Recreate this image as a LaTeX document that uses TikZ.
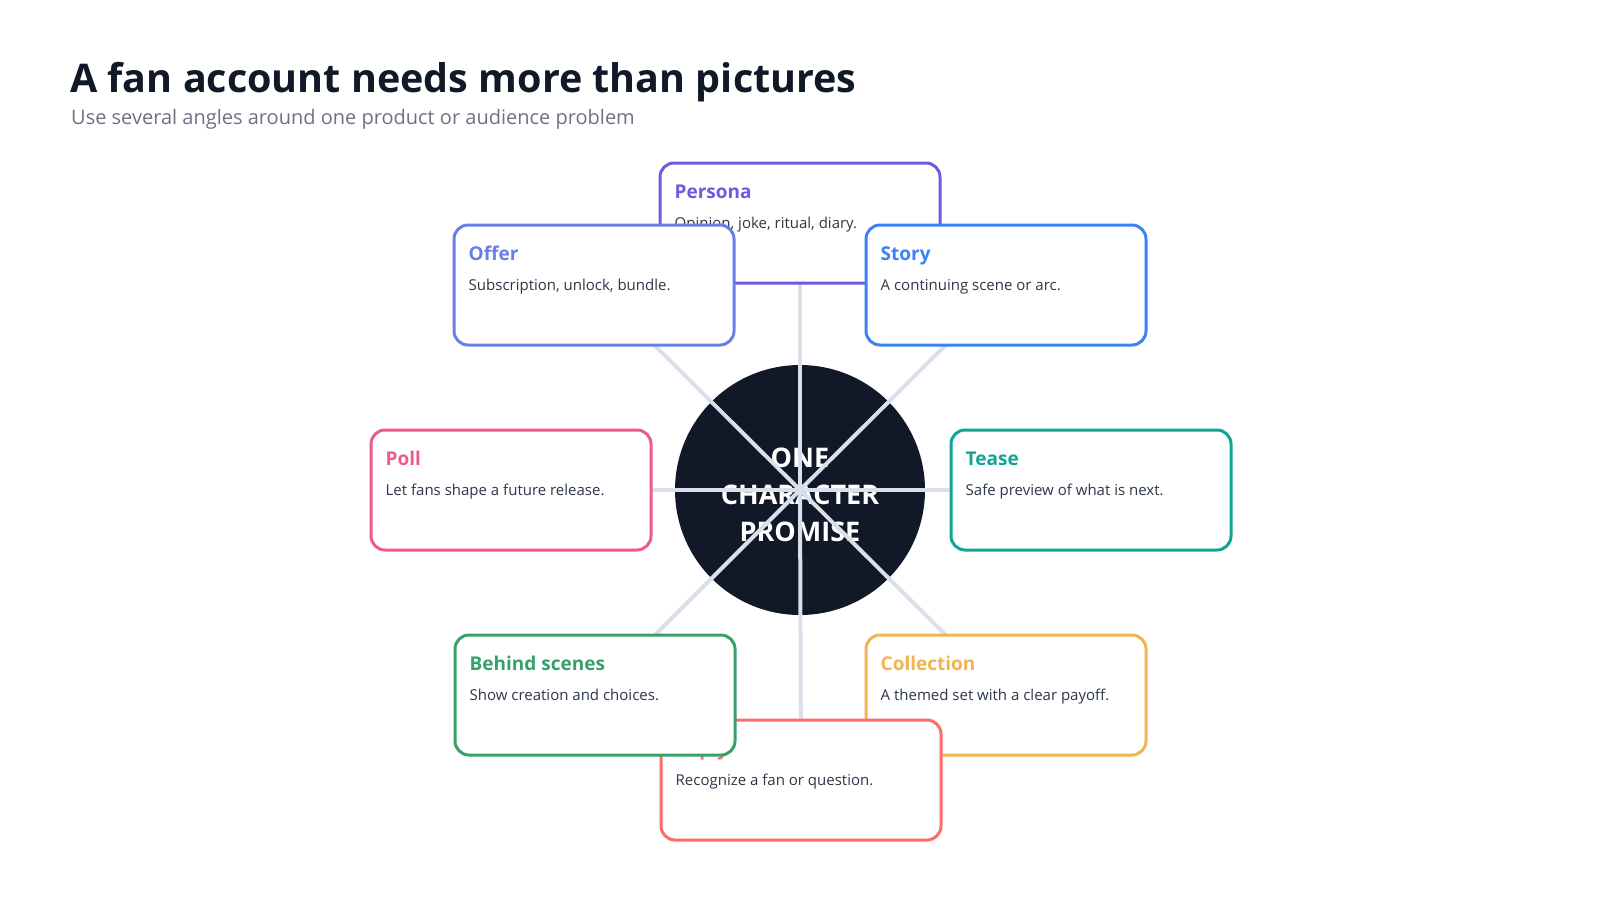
\documentclass[tikz,border=0pt]{standalone}
\usepackage{fontspec}
\setmainfont{Open Sans}
\definecolor{ink}{HTML}{111827}
\definecolor{muted}{HTML}{6B7280}
\definecolor{bodyink}{HTML}{2D3748}
\definecolor{cSpoke}{HTML}{D9E0EA}
\definecolor{cPersona}{HTML}{7657E0}
\definecolor{cOffer}{HTML}{6A7FE6}
\definecolor{cStory}{HTML}{3B82F6}
\definecolor{cTease}{HTML}{0FA596}
\definecolor{cPoll}{HTML}{EF5A8D}
\definecolor{cBehind}{HTML}{38A169}
\definecolor{cCollection}{HTML}{F3B44F}
\definecolor{cReply}{HTML}{FF6B6B}
\begin{document}
\begin{tikzpicture}[x=1pt,y=-1pt,
  card/.style={draw,line width=3pt,rounded corners=14pt,fill=white,minimum width=280pt,minimum height=120pt},
  head/.style={anchor=base west,inner sep=0pt,font=\fontsize{19}{23}\selectfont\bfseries},
  note/.style={anchor=base west,inner sep=0pt,text=bodyink,font=\fontsize{15}{18}\selectfont},
  spoke/.style={draw=cSpoke,line width=4pt}]
\useasboundingbox (0,0) rectangle (1600,900);

\node[anchor=base west,inner sep=0pt,text=ink,font=\fontsize{39.5}{46}\selectfont\bfseries] (title) at (70,92) {A fan account needs more than pictures};
\node[anchor=base west,inner sep=0pt,text=muted,font=\fontsize{20}{24}\selectfont] (subtitle) at (71,124) {Use several angles around one product or audience problem};

\coordinate (persona-c) at (800,223);
\coordinate (story-c) at (1006,285);
\coordinate (tease-c) at (1091,490);
\coordinate (collection-c) at (1006,695);
\coordinate (reply-c) at (801,780);
\coordinate (behind-c) at (595,695);
\coordinate (poll-c) at (511,490);
\coordinate (offer-c) at (594,285);

\node[circle,fill=ink,minimum size=250pt] (core) at (800,490) {};
\node[text=white,align=center,font=\fontsize{27}{37}\selectfont\bfseries] (core-text) at ([yshift=-5pt]core.center) {ONE\\CHARACTER\\PROMISE};

\draw[spoke] (core.center) -- (persona-c);
\draw[spoke] (core.center) -- (story-c);
\draw[spoke] (core.center) -- (tease-c);
\draw[spoke] (core.center) -- (collection-c);
\draw[spoke] (core.center) -- (reply-c);
\draw[spoke] (core.center) -- (behind-c);
\draw[spoke] (core.center) -- (poll-c);
\draw[spoke] (core.center) -- (offer-c);

\node[card,draw=cPersona] (persona) at (persona-c) {};
\node[head,text=cPersona] (persona-head) at ([xshift=16pt,yshift=-37pt]persona.north west) {Persona};
\node[note] (persona-note) at ([xshift=16pt,yshift=-67pt]persona.north west) {Opinion, joke, ritual, diary.};

\node[card,draw=cStory] (story) at (story-c) {};
\node[head,text=cStory] (story-head) at ([xshift=16pt,yshift=-37pt]story.north west) {Story};
\node[note] (story-note) at ([xshift=16pt,yshift=-67pt]story.north west) {A continuing scene or arc.};

\node[card,draw=cTease] (tease) at (tease-c) {};
\node[head,text=cTease] (tease-head) at ([xshift=16pt,yshift=-37pt]tease.north west) {Tease};
\node[note] (tease-note) at ([xshift=16pt,yshift=-67pt]tease.north west) {Safe preview of what is next.};

\node[card,draw=cCollection] (collection) at (collection-c) {};
\node[head,text=cCollection] (collection-head) at ([xshift=16pt,yshift=-37pt]collection.north west) {Collection};
\node[note] (collection-note) at ([xshift=16pt,yshift=-67pt]collection.north west) {A themed set with a clear payoff.};

\node[card,draw=cReply] (reply) at (reply-c) {};
\node[head,text=cReply] (reply-head) at ([xshift=16pt,yshift=-37pt]reply.north west) {Reply};
\node[note] (reply-note) at ([xshift=16pt,yshift=-67pt]reply.north west) {Recognize a fan or question.};

\node[card,draw=cBehind] (behind) at (behind-c) {};
\node[head,text=cBehind] (behind-head) at ([xshift=16pt,yshift=-37pt]behind.north west) {Behind scenes};
\node[note] (behind-note) at ([xshift=16pt,yshift=-67pt]behind.north west) {Show creation and choices.};

\node[card,draw=cPoll] (poll) at (poll-c) {};
\node[head,text=cPoll] (poll-head) at ([xshift=16pt,yshift=-37pt]poll.north west) {Poll};
\node[note] (poll-note) at ([xshift=16pt,yshift=-67pt]poll.north west) {Let fans shape a future release.};

\node[card,draw=cOffer] (offer) at (offer-c) {};
\node[head,text=cOffer] (offer-head) at ([xshift=16pt,yshift=-37pt]offer.north west) {Offer};
\node[note] (offer-note) at ([xshift=16pt,yshift=-67pt]offer.north west) {Subscription, unlock, bundle.};
\end{tikzpicture}
\end{document}
